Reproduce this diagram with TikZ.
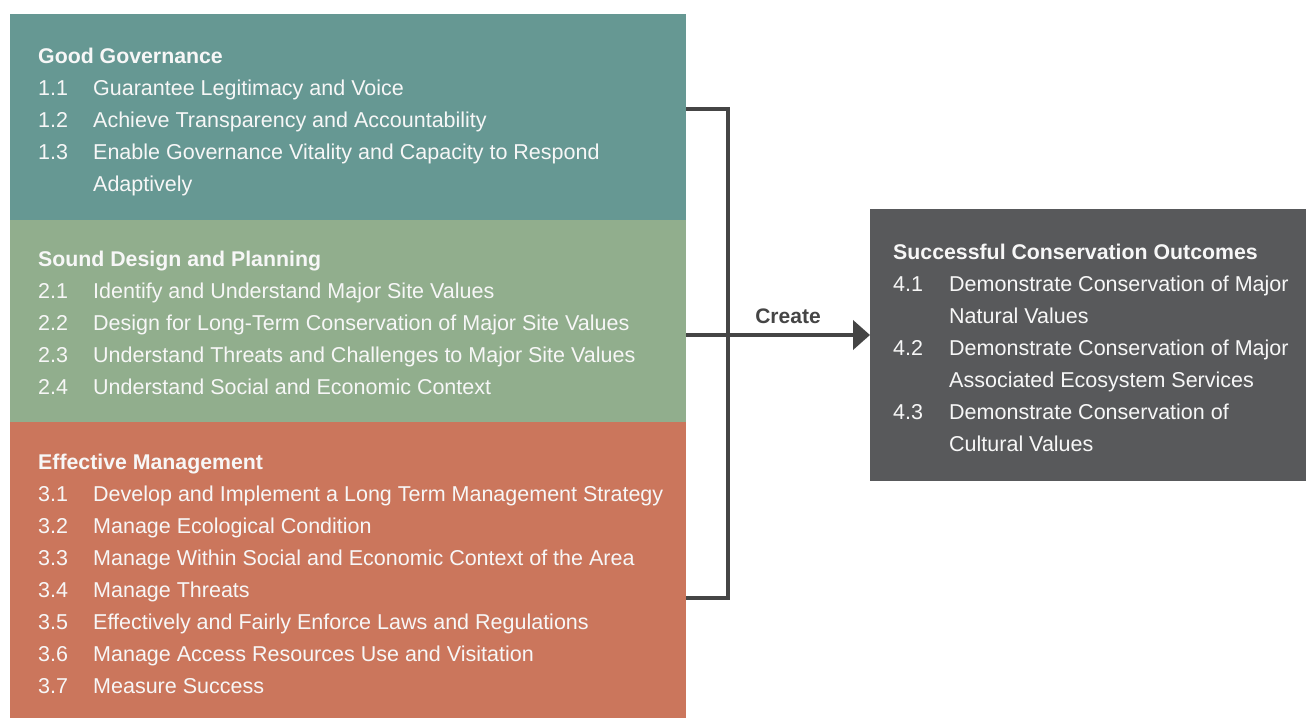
\documentclass[tikz,border=0pt]{standalone}
\usepackage{fontspec}
\setmainfont{Liberation Sans}
\usetikzlibrary{arrows.meta}
\definecolor{teal1}{HTML}{669893}
\definecolor{green1}{HTML}{91AE8D}
\definecolor{orange1}{HTML}{CB765C}
\definecolor{gray1}{HTML}{58595B}
\definecolor{line1}{HTML}{454545}
\definecolor{txt1}{HTML}{F7F7F7}
\tikzset{
  panel/.style={draw=none, inner sep=0pt, outer sep=0pt, anchor=north west},
  head/.style={anchor=base west, inner sep=0pt, text=txt1, font=\fontsize{21.3}{24}\selectfont\bfseries},
  num/.style={anchor=base west, inner sep=0pt, text=txt1, font=\fontsize{21.5}{24}\selectfont},
  txt/.style={anchor=base west, inner sep=0pt, text=txt1, font=\fontsize{21.5}{24}\selectfont},
  conn/.style={draw=line1, line width=4pt},
}
\begin{document}
\begin{tikzpicture}[x=1pt,y=-1pt]
\useasboundingbox[fill=white] (0,0) rectangle (1306,718);
% panels
\node[panel, fill=teal1, minimum width=676pt, minimum height=206pt] (gov) at (10,14) {};
\node[panel, fill=green1, minimum width=676pt, minimum height=202pt] (des) at (10,220) {};
\node[panel, fill=orange1, minimum width=676pt, minimum height=296pt] (man) at (10,422) {};
\node[panel, fill=gray1, minimum width=436pt, minimum height=272pt] (out) at (870,209) {};
% Good Governance
\node[head] (h1) at (38,63) {Good Governance};
\foreach \n/\t/\y [count=\i] in {1.1/Guarantee Legitimacy and Voice/95, 1.2/Achieve Transparency and Accountability/127, 1.3/Enable Governance Vitality and Capacity to Respond/159}{
  \node[num] (n1\i) at (38,\y) {\n};
  \node[txt] (t1\i) at (93,\y) {\t};
}
\node[txt] (t13b) at (93,191) {Adaptively};
% Sound Design
\node[head] (h2) at (38,266) {Sound Design and Planning};
\foreach \n/\t/\y [count=\i] in {2.1/Identify and Understand Major Site Values/298, 2.2/Design for Long-Term Conservation of Major Site Values/330, 2.3/Understand Threats and Challenges to Major Site Values/362, 2.4/Understand Social and Economic Context/394}{
  \node[num] (n2\i) at (38,\y) {\n};
  \node[txt] (t2\i) at (93,\y) {\t};
}
% Effective Management
\node[head] (h3) at (38,469) {Effective Management};
\foreach \n/\t/\y [count=\i] in {3.1/Develop and Implement a Long Term Management Strategy/501, 3.2/Manage Ecological Condition/533, 3.3/Manage Within Social and Economic Context of the Area/565, 3.4/Manage Threats/597, 3.5/Effectively and Fairly Enforce Laws and Regulations/629, 3.6/Manage Access Resources Use and Visitation/661, 3.7/Measure Success/693}{
  \node[num] (n3\i) at (38,\y) {\n};
  \node[txt] (t3\i) at (93,\y) {\t};
}
% Outcomes
\node[head] (h4) at (893,259) {Successful Conservation Outcomes};
\node[num] (n41) at (893,291) {4.1};
\node[txt] (t41) at (949,291) {Demonstrate Conservation of Major};
\node[txt] (t41b) at (949,323) {Natural Values};
\node[num] (n42) at (893,355) {4.2};
\node[txt] (t42) at (949,355) {Demonstrate Conservation of Major};
\node[txt] (t42b) at (949,387) {Associated Ecosystem Services};
\node[num] (n43) at (893,419) {4.3};
\node[txt] (t43) at (949,419) {Demonstrate Conservation of};
\node[txt] (t43b) at (949,451) {Cultural Values};
% bracket and arrow
\coordinate (btop) at (728,109);
\coordinate (bbot) at (728,598);
\draw[conn, line cap=butt] (gov.east |- btop) -- (btop) -- (bbot) -- (man.east |- bbot);
\coordinate (amid) at (686,335);
\draw[conn, -{Triangle[length=17pt,width=29pt]}] (des.east |- amid) -- (out.west |- amid);
\node[anchor=base, inner sep=0pt, text=line1, font=\fontsize{21}{24}\selectfont\bfseries] (create) at (788,323) {Create};
\end{tikzpicture}
\end{document}
